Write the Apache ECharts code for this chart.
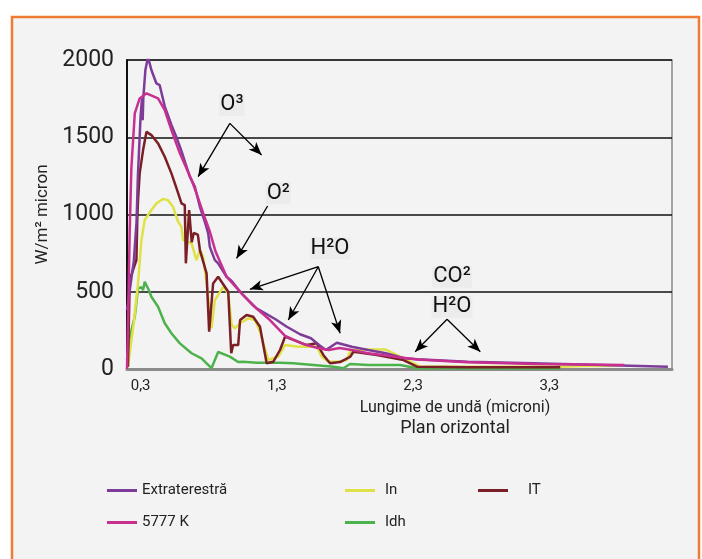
<!DOCTYPE html>
<html>
<head>
<meta charset="utf-8">
<script src="https://cdn.jsdelivr.net/npm/echarts@6/dist/echarts.min.js"></script>
<style>
  html, body { margin: 0; padding: 0; background: #ffffff; }
  #chart { width: 702px; height: 559px; }
</style>
</head>
<body>
<div id="chart"></div>
<script>
// Spectral irradiance (W/m² micron) versus wavelength (microns)
const xTicks = [0.3, 1.3, 2.3, 3.3];
const yTicks = [0, 500, 1000, 1500, 2000];

const wlExtra  = [0.2, 0.25, 0.27, 0.28, 0.30, 0.31, 0.315, 0.32, 0.335, 0.354, 0.379, 0.416, 0.44, 0.477, 0.526, 0.563, 0.6, 0.661, 0.698, 0.735, 0.771, 0.796, 0.808, 0.845, 0.869, 0.931, 0.968, 1.04, 1.151, 1.29, 1.37, 1.47, 1.55, 1.61, 1.66, 1.74, 1.85, 1.97, 2.1, 2.24, 2.33, 2.7, 3.18, 3.68, 4.17];
const valExtra = [380, 700, 950, 1250, 1640, 1750, 1610, 1760, 1935, 2020, 1935, 1848, 1837, 1700, 1580, 1500, 1410, 1244, 1180, 1050, 953, 878, 790, 705, 684, 597, 570, 490, 392, 322, 275, 225, 199, 155, 123, 170, 144, 123, 102, 69, 63, 47, 37, 26, 15];

const wl5777  = [0.2, 0.21, 0.22, 0.232, 0.257, 0.293, 0.343, 0.428, 0.477, 0.526, 0.588, 0.674, 0.71, 0.759, 0.808, 0.85, 0.931, 1.029, 1.126, 1.249, 1.36, 1.5, 1.6, 1.68, 1.76, 1.85, 1.97, 2.17, 2.33, 2.7, 3.19, 3.85];
const val5777 = [0, 420, 900, 1300, 1654, 1751, 1784, 1751, 1676, 1546, 1396, 1223, 1137, 1008, 890, 760, 597, 500, 410, 317, 215, 160, 136, 123, 136, 123, 102, 80, 62, 43, 32, 26];

const wlIn  = [0.207, 0.25, 0.281, 0.306, 0.33, 0.379, 0.416, 0.462, 0.50, 0.538, 0.575, 0.6, 0.612, 0.674, 0.71, 0.735, 0.759, 0.784, 0.82, 0.845, 0.906, 0.943, 0.968, 0.992, 1.029, 1.09, 1.139, 1.176, 1.237, 1.31, 1.36, 1.457, 1.593, 1.629, 1.678, 1.751, 1.813, 1.837, 1.887, 1.972, 2.095, 2.205, 2.303, 2.352, 2.7, 3.38, 3.55, 3.8];
const valIn = [15, 300, 555, 835, 964, 1029, 1072, 1100, 1093, 1050, 953, 920, 835, 813, 705, 770, 727, 554, 263, 446, 532, 490, 285, 263, 296, 328, 317, 241, 58, 80, 155, 144, 144, 80, 47, 47, 58, 112, 123, 127, 127, 80, 37, 15, 15, 15, 19, 21];

const wlIT  = [0.207, 0.22, 0.244, 0.269, 0.276, 0.281, 0.293, 0.318, 0.343, 0.379, 0.428, 0.477, 0.526, 0.563, 0.6, 0.624, 0.632, 0.656, 0.675, 0.69, 0.72, 0.735, 0.784, 0.803, 0.832, 0.869, 0.943, 0.965, 0.979, 1.016, 1.03, 1.078, 1.126, 1.176, 1.225, 1.274, 1.323, 1.36, 1.42, 1.519, 1.593, 1.641, 1.69, 1.764, 1.837, 1.862, 2.034, 2.229, 2.328, 2.7, 3.38];
const valIT = [15, 576, 640, 705, 985, 1093, 1266, 1417, 1535, 1514, 1460, 1374, 1266, 1171, 1072, 1061, 684, 1029, 820, 880, 870, 770, 619, 241, 554, 597, 500, 102, 155, 155, 317, 349, 338, 274, 37, 47, 123, 209, 188, 155, 166, 91, 37, 45, 78, 112, 91, 58, 15, 11, 11];

const wlIdh  = [0.2, 0.22, 0.257, 0.281, 0.306, 0.318, 0.33, 0.36, 0.379, 0.428, 0.477, 0.526, 0.588, 0.674, 0.747, 0.82, 0.869, 0.955, 1.016, 1.053, 1.151, 1.323, 1.42, 1.568, 1.715, 1.788, 1.837, 1.972, 2.205, 2.328, 3.38];
const valIdh = [58, 209, 338, 522, 529, 511, 565, 511, 468, 403, 296, 231, 166, 102, 69, 5, 110, 80, 45, 47, 41, 41, 37, 26, 15, 5, 32, 26, 26, 5, 3];

// Annotation arrows: [from, to] in (wavelength, W/m² micron)
const arrowLines = [
  [[0.955, 1590], [0.722, 1245]],
  [[0.955, 1590], [1.188, 1385]],
  [[1.232, 1055], [1.004, 716]],
  [[1.604, 662], [1.102, 516]],
  [[1.604, 662], [1.384, 317]],
  [[1.604, 662], [1.764, 231]],
  [[2.549, 322], [2.315, 112]],
  [[2.549, 322], [2.793, 112]]
];
const annotNames = ['O³', 'O²', 'H²O', 'CO²', 'H²O'];
const annotPos = [[0.97, 1709], [1.31, 1137], [1.69, 781], [2.585, 597], [2.585, 403]];

const zip = (xs, ys) => xs.map((x, i) => [x, ys[i]]);
const FONT = 'Roboto, "Liberation Sans", sans-serif';

const chart = echarts.init(document.getElementById('chart'), null, { renderer: 'canvas' });

function lineSeries(name, xs, ys, color, z) {
  return {
    name: name, type: 'line', data: zip(xs, ys), symbol: 'none', smooth: false,
    lineStyle: { color: color, width: 2.5 }, itemStyle: { color: color }, z: z, silent: true
  };
}

function legendBlock(names, left, gap) {
  return {
    data: names, orient: 'vertical', left: left, top: 483, padding: 0,
    icon: 'rect', itemWidth: 30, itemHeight: 3, itemGap: 17,
    textStyle: { fontSize: 15, color: '#222', fontFamily: FONT, padding: [0, 0, 0, gap] }
  };
}

chart.setOption({
  animation: false,
  backgroundColor: '#ffffff',
  textStyle: { fontFamily: FONT },
  grid: { left: 127, right: 30, top: 60, bottom: 190, show: true, borderColor: '#8a8a8a', borderWidth: 1.5, backgroundColor: 'transparent' },
  xAxis: {
    type: 'value', min: 0.2, max: 4.2,
    axisLine: { show: true, lineStyle: { color: '#8c8c8c', width: 3 } },
    axisTick: { show: false },
    splitLine: { show: false },
    axisLabel: {
      customValues: xTicks, fontSize: 15, color: '#222', margin: 10,
      formatter: v => v.toFixed(1).replace('.', ',')
    }
  },
  yAxis: {
    type: 'value', min: 0, max: 2000, interval: 500,
    name: 'W/m² micron', nameLocation: 'middle', nameGap: 74,
    nameTextStyle: { fontSize: 17, color: '#222' },
    axisLine: { show: true, lineStyle: { color: '#111', width: 2 } },
    axisTick: { show: false },
    splitLine: { show: true, lineStyle: { color: '#111', width: 1.5 } },
    axisLabel: { customValues: yTicks, fontSize: 23, color: '#222', margin: 13, formatter: v => String(v) }
  },
  legend: [
    legendBlock(['Extraterestră', '5777 K'], 107, 0),
    legendBlock(['In', 'Idh'], 345, 5),
    legendBlock(['IT'], 478, 15)
  ],
  graphic: [
    { type: 'rect', z: -10, shape: { x: 12, y: 17, width: 687, height: 560 },
      style: { fill: '#f3f3f3', stroke: '#ee7d33', lineWidth: 2.5 } },
    { type: 'text', x: 455, y: 408, z: 10,
      style: { text: 'Lungime de undă (microni)', align: 'center', verticalAlign: 'middle', font: '16px ' + FONT, fill: '#222' } },
    { type: 'text', x: 455, y: 428, z: 10,
      style: { text: 'Plan orizontal', align: 'center', verticalAlign: 'middle', font: '18px ' + FONT, fill: '#222' } }
  ],
  series: [
    lineSeries('Idh', wlIdh, valIdh, '#4cb24c', 3),
    lineSeries('In', wlIn, valIn, '#dfe246', 4),
    lineSeries('IT', wlIT, valIT, '#7a1f25', 5),
    lineSeries('Extraterestră', wlExtra, valExtra, '#7d3c98', 6),
    lineSeries('5777 K', wl5777, val5777, '#c7308f', 7),
    {
      name: 'annotations', type: 'line', data: [], z: 8, silent: true,
      markLine: {
        silent: true, symbol: ['none', 'arrow'], symbolSize: [8, 13],
        lineStyle: { color: '#000', width: 1.3, type: 'solid' },
        label: { show: false },
        data: arrowLines.map(seg => [{ coord: seg[0] }, { coord: seg[1] }])
      },
      markPoint: {
        silent: true, symbol: 'circle', symbolSize: 1,
        itemStyle: { color: 'rgba(0,0,0,0)' },
        label: {
          show: true, position: 'inside', fontSize: 22, color: '#111',
          backgroundColor: '#ececec', padding: [0, 1],
          formatter: p => p.name
        },
        data: annotNames.map((n, i) => ({ name: n, coord: annotPos[i] }))
      }
    }
  ]
});
</script>
</body>
</html>
